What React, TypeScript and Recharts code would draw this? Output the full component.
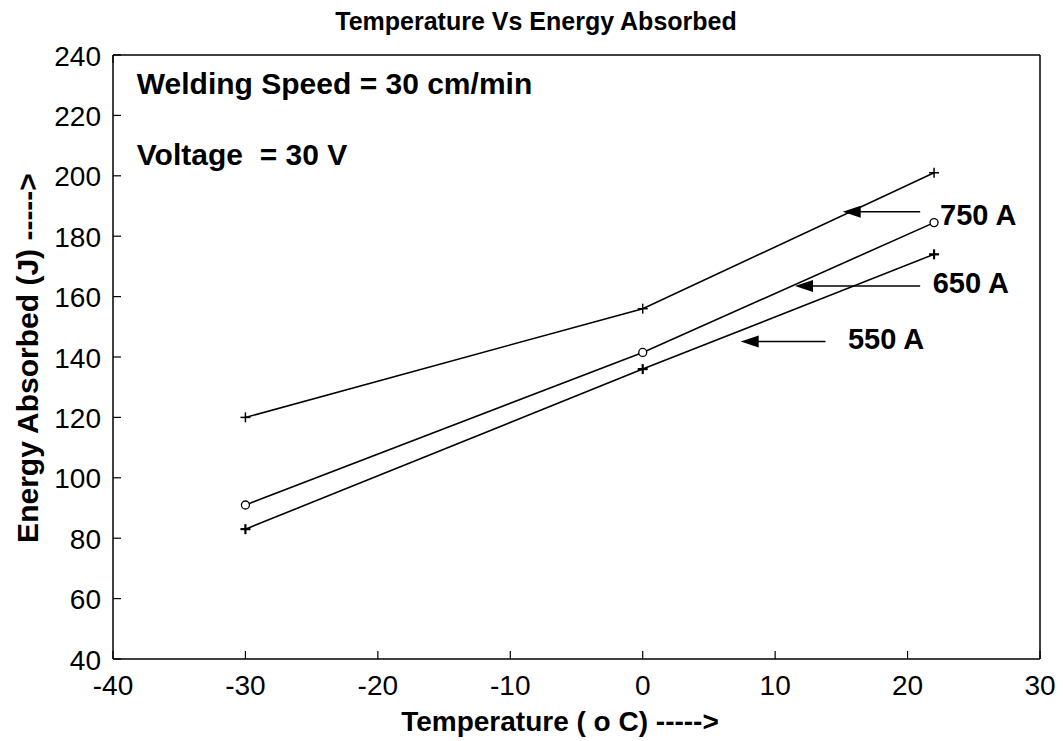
import React from 'react';
import {
  LineChart,
  Line,
  XAxis,
  YAxis,
  ReferenceLine,
  ReferenceDot,
} from 'recharts';

// temperatures (oC) and energy absorbed (J) for each welding current
const temps = [-30, 0, 22];
const amp750 = [120, 156, 201];
const amp650 = [91, 141.5, 184.5];
const amp550 = [83, 136, 174];

const xTicks = [-40, -30, -20, -10, 0, 10, 20, 30];
const yTicks = [40, 60, 80, 100, 120, 140, 160, 180, 200, 220, 240];

// arrows: tail x, tip x, energy level
const arrowTail = [20.95, 20.95, 13.8];
const arrowTip = [15.1, 11.5, 7.4];
const arrowY = [188.1, 163.5, 145.1];

// current labels next to arrows
const labelText = ['750 A', '650 A', '550 A'];
const labelX = [22.45, 21.9, 15.5];
const labelY = [187, 164.5, 146.1];

// notes inside the plot
const notes = ['Welding Speed = 30 cm/min', 'Voltage  = 30 V'];
const noteX = [-38.2, -38.2];
const noteY = [230.4, 207.2];

const data = temps.map((t, i) => ({
  t,
  a750: amp750[i],
  a650: amp650[i],
  a550: amp550[i],
}));

const FONT = '"Liberation Sans", Arial, Helvetica, sans-serif';
const TICK = 8;

function BottomTick(props: any) {
  const { x, y, payload } = props;
  return (
    <g>
      <line x1={x} y1={y} x2={x} y2={y - TICK} stroke="#000" strokeWidth={1.2} />
      <text x={x} y={y + 26} textAnchor="middle" dominantBaseline="central" fontSize={28} fontFamily={FONT} fill="#000">
        {payload.value}
      </text>
    </g>
  );
}

function TopTick(props: any) {
  const { x, y } = props;
  return <line x1={x} y1={y} x2={x} y2={y + TICK} stroke="#000" strokeWidth={1.2} />;
}

function LeftTick(props: any) {
  const { x, y, payload } = props;
  return (
    <g>
      <line x1={x} y1={y} x2={x + TICK} y2={y} stroke="#000" strokeWidth={1.2} />
      <text x={x - 12} y={y + 1} textAnchor="end" dominantBaseline="central" fontSize={28} fontFamily={FONT} fill="#000">
        {payload.value}
      </text>
    </g>
  );
}

function RightTick(props: any) {
  const { x, y } = props;
  return <line x1={x} y1={y} x2={x - TICK} y2={y} stroke="#000" strokeWidth={1.2} />;
}

function PlusDot(props: any) {
  const { cx, cy, index } = props;
  if (cx == null || cy == null) return <g key={index} />;
  return (
    <g key={index}>
      <line x1={cx - 5} y1={cy} x2={cx + 5} y2={cy} stroke="#000" strokeWidth={1.5} />
      <line x1={cx} y1={cy - 5} x2={cx} y2={cy + 5} stroke="#000" strokeWidth={1.5} />
    </g>
  );
}

function BoldPlusDot(props: any) {
  const { cx, cy, index } = props;
  if (cx == null || cy == null) return <g key={index} />;
  return (
    <g key={index}>
      <line x1={cx - 5} y1={cy} x2={cx + 5} y2={cy} stroke="#000" strokeWidth={2.2} />
      <line x1={cx} y1={cy - 5} x2={cx} y2={cy + 5} stroke="#000" strokeWidth={2.2} />
    </g>
  );
}

function CircleDot(props: any) {
  const { cx, cy, index } = props;
  if (cx == null || cy == null) return <g key={index} />;
  return <circle key={index} cx={cx} cy={cy} r={4} fill="#fff" stroke="#000" strokeWidth={1.3} />;
}

function Arrow(props: any) {
  const { x1, y1, x2, y2 } = props;
  // x1 = tail, x2 = tip (pointing left)
  const head = 18;
  return (
    <g>
      <line x1={x1} y1={y1} x2={x2 + head - 2} y2={y2} stroke="#000" strokeWidth={1.5} />
      <polygon points={`${x2},${y2} ${x2 + head},${y2 - 6} ${x2 + head},${y2 + 6}`} fill="#000" />
    </g>
  );
}

function textShape(value: string, size: number) {
  return (props: any) => (
    <text
      x={props.cx}
      y={props.cy}
      textAnchor="start"
      dominantBaseline="central"
      fontSize={size}
      fontWeight="bold"
      fontFamily={FONT}
      fill="#000"
      style={{ whiteSpace: 'pre' }}
    >
      {value}
    </text>
  );
}

export default function App() {
  return (
    <div style={{ position: 'relative', width: 1063, height: 741, background: '#fff', fontFamily: FONT }}>
      <style>{'body{margin:0}'}</style>
      <LineChart
        width={1063}
        height={741}
        data={data}
        margin={{ top: 45, right: 13, bottom: 42, left: 53 }}
      >
        <XAxis
          dataKey="t"
          type="number"
          domain={[-40, 30]}
          ticks={xTicks}
          height={40}
          tickSize={0}
          tickMargin={0}
          tickLine={false}
          axisLine={{ stroke: '#000', strokeWidth: 1.5 }}
          tick={<BottomTick />}
          interval={0}
        />
        <XAxis
          xAxisId="top"
          orientation="top"
          type="number"
          domain={[-40, 30]}
          ticks={xTicks}
          height={10}
          tickSize={0}
          tickMargin={0}
          tickLine={false}
          axisLine={{ stroke: '#000', strokeWidth: 1.5 }}
          tick={<TopTick />}
          interval={0}
        />
        <YAxis
          type="number"
          domain={[40, 240]}
          ticks={yTicks}
          width={60}
          tickSize={0}
          tickMargin={0}
          tickLine={false}
          axisLine={{ stroke: '#000', strokeWidth: 1.5 }}
          tick={<LeftTick />}
          interval={0}
        />
        <YAxis
          yAxisId="right"
          orientation="right"
          type="number"
          domain={[40, 240]}
          ticks={yTicks}
          width={10}
          tickSize={0}
          tickMargin={0}
          tickLine={false}
          axisLine={{ stroke: '#000', strokeWidth: 1.5 }}
          tick={<RightTick />}
          interval={0}
        />

        <Line type="linear" dataKey="a750" stroke="#000" strokeWidth={1.6} dot={<PlusDot />} isAnimationActive={false} />
        <Line type="linear" dataKey="a650" stroke="#000" strokeWidth={1.6} dot={<CircleDot />} isAnimationActive={false} />
        <Line type="linear" dataKey="a550" stroke="#000" strokeWidth={1.6} dot={<BoldPlusDot />} isAnimationActive={false} />

        {arrowTail.map((tail, i) => (
          <ReferenceLine
            key={`arrow-${i}`}
            segment={[
              { x: tail, y: arrowY[i] },
              { x: arrowTip[i], y: arrowY[i] },
            ]}
            stroke="#000"
            shape={<Arrow />}
          />
        ))}

        {labelText.map((txt, i) => (
          <ReferenceDot key={`lab-${i}`} x={labelX[i]} y={labelY[i]} r={0} shape={textShape(txt, 29)} />
        ))}

        {notes.map((txt, i) => (
          <ReferenceDot key={`note-${i}`} x={noteX[i]} y={noteY[i]} r={0} shape={textShape(txt, 30)} />
        ))}
      </LineChart>

      <div
        style={{
          position: 'absolute',
          left: 536,
          top: 21,
          transform: 'translate(-50%, -50%)',
          fontSize: 25,
          fontWeight: 'bold',
          whiteSpace: 'nowrap',
        }}
      >
        Temperature Vs Energy Absorbed
      </div>
      <div
        style={{
          position: 'absolute',
          left: 560,
          top: 722,
          transform: 'translate(-50%, -50%)',
          fontSize: 28,
          fontWeight: 'bold',
          whiteSpace: 'nowrap',
        }}
      >
        Temperature ( o C) -----&gt;
      </div>
      <div
        style={{
          position: 'absolute',
          left: 28,
          top: 358,
          transform: 'translate(-50%, -50%) rotate(-90deg)',
          fontSize: 30,
          fontWeight: 'bold',
          whiteSpace: 'nowrap',
        }}
      >
        Energy Absorbed (J) -----&gt;
      </div>
    </div>
  );
}
